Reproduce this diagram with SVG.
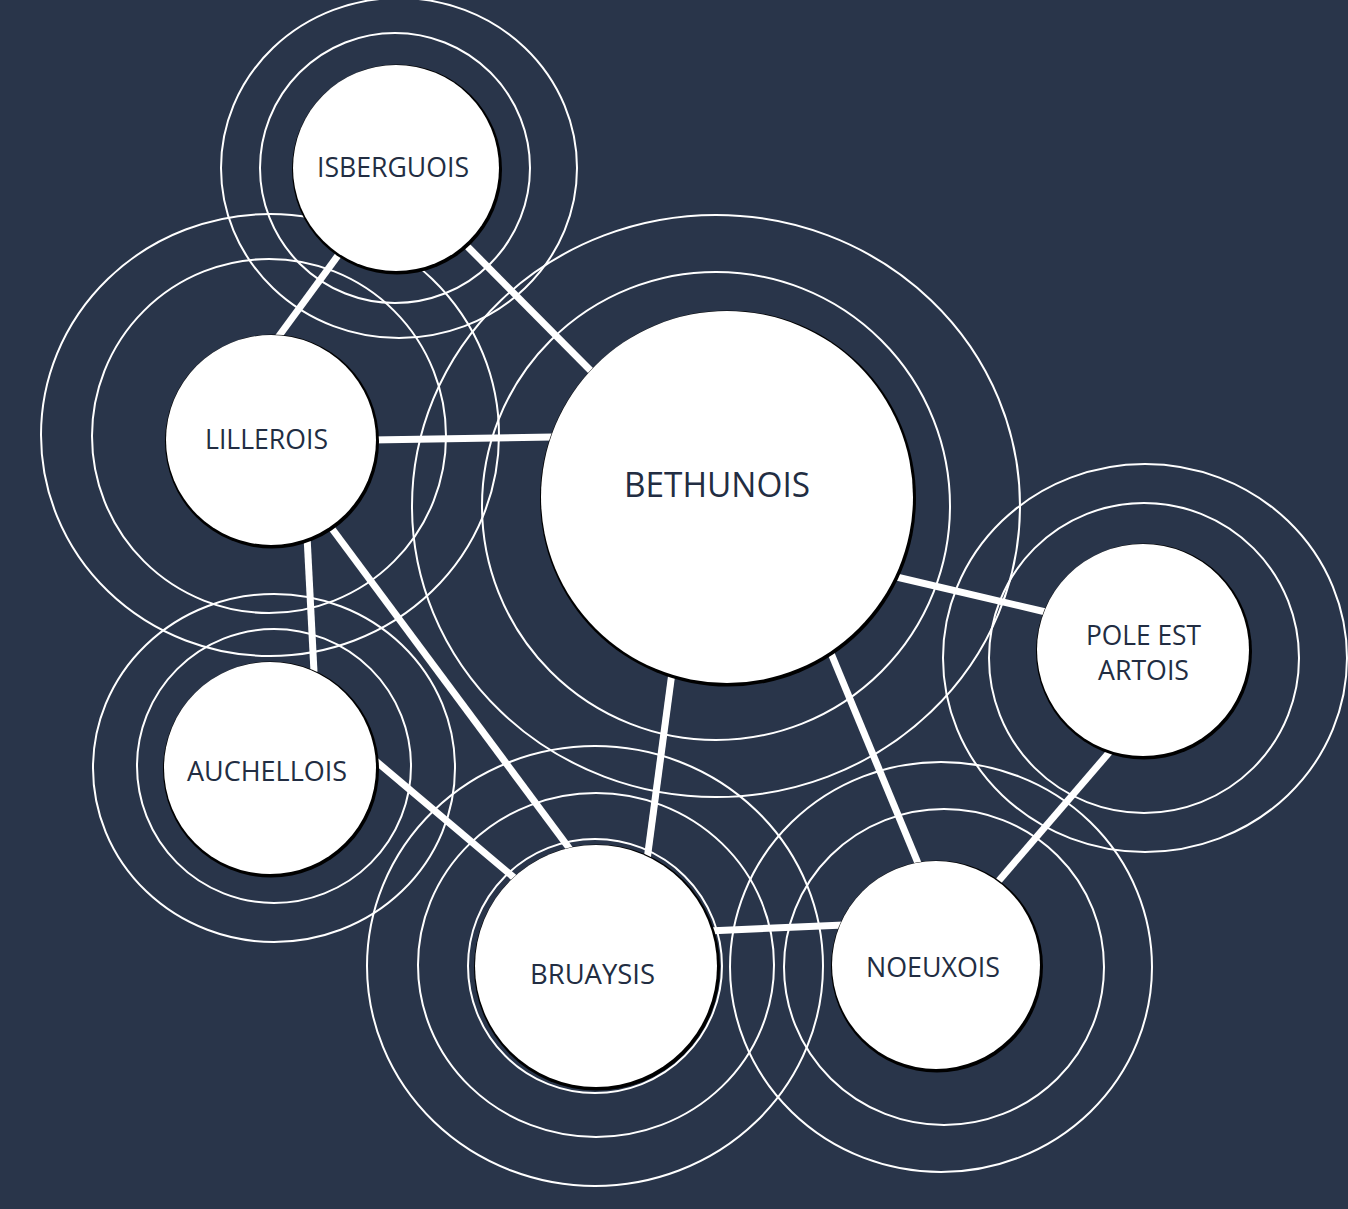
<svg xmlns="http://www.w3.org/2000/svg" width="1348" height="1209" viewBox="0 0 1348 1209">
<style>
.ring{fill:none;stroke:#ffffff;stroke-width:2}
.edge{stroke:#ffffff;stroke-width:7;stroke-linecap:butt}
.shadow{fill:#000000}
.node{fill:#ffffff}
.lbl{font-family:"Open Sans","Liberation Sans",sans-serif;fill:#222d42;text-anchor:middle}
</style>
<rect width="1348" height="1209" fill="#29354a"/>
<g id="rings">
<circle class="ring" cx="395" cy="168" r="135"/>
<ellipse class="ring" cx="399" cy="168" rx="178" ry="170"/>
<circle class="ring" cx="269" cy="436" r="177"/>
<ellipse class="ring" cx="270" cy="435" rx="229" ry="221"/>
<circle class="ring" cx="274" cy="766" r="137"/>
<ellipse class="ring" cx="274" cy="768" rx="181" ry="174"/>
<circle class="ring" cx="716" cy="506" r="234"/>
<ellipse class="ring" cx="716" cy="506" rx="304" ry="291"/>
<circle class="ring" cx="1144" cy="658" r="155"/>
<ellipse class="ring" cx="1145" cy="658" rx="202" ry="194"/>
<ellipse class="ring" cx="596" cy="965" rx="178" ry="172"/>
<ellipse class="ring" cx="595" cy="966" rx="228" ry="220"/>
<ellipse class="ring" cx="944" cy="967" rx="160" ry="158"/>
<ellipse class="ring" cx="941" cy="967" rx="211" ry="205"/>
</g>
<g id="connectors">
<line class="edge" x1="342" y1="250" x2="276" y2="340"/>
<line class="edge" x1="460" y1="239" x2="594" y2="374"/>
<line class="edge" x1="372" y1="440" x2="553" y2="437"/>
<line class="edge" x1="307" y1="536" x2="314" y2="672"/>
<line class="edge" x1="330" y1="526" x2="572" y2="852"/>
<line class="edge" x1="371" y1="757" x2="518" y2="881"/>
<line class="edge" x1="673" y1="665" x2="647" y2="860"/>
<line class="edge" x1="828" y1="646" x2="920" y2="868"/>
<line class="edge" x1="888" y1="575" x2="1050" y2="613"/>
<line class="edge" x1="1113" y1="748" x2="996" y2="884"/>
<line class="edge" x1="708" y1="931" x2="844" y2="925"/>
</g>
<g id="node-isberguois">
<circle class="shadow" cx="397" cy="169.5" r="105"/>
<circle class="node" cx="396" cy="168" r="103"/>
<text class="lbl" x="393" y="177" font-size="27" textLength="152" lengthAdjust="spacingAndGlyphs">ISBERGUOIS</text>
</g>
<g id="node-lillerois">
<circle class="shadow" cx="272" cy="441.5" r="107"/>
<circle class="node" cx="271" cy="440" r="105"/>
<text class="lbl" x="266.5" y="449" font-size="27" textLength="123" lengthAdjust="spacingAndGlyphs">LILLEROIS</text>
</g>
<g id="node-auchellois">
<circle class="shadow" cx="271" cy="769.5" r="108"/>
<circle class="node" cx="270" cy="768" r="106"/>
<text class="lbl" x="267" y="781" font-size="27" textLength="160" lengthAdjust="spacingAndGlyphs">AUCHELLOIS</text>
</g>
<g id="node-bethunois">
<circle class="shadow" cx="728" cy="498.5" r="188"/>
<circle class="node" cx="727" cy="497" r="186"/>
<text class="lbl" x="717" y="497" font-size="34" textLength="186" lengthAdjust="spacingAndGlyphs">BETHUNOIS</text>
</g>
<g id="node-pole-est-artois">
<circle class="shadow" cx="1144" cy="651.5" r="108"/>
<circle class="node" cx="1143" cy="650" r="106"/>
<text class="lbl" x="1143.5" y="645" font-size="27" textLength="115" lengthAdjust="spacingAndGlyphs">POLE EST</text>
<text class="lbl" x="1143.5" y="680" font-size="27" textLength="91" lengthAdjust="spacingAndGlyphs">ARTOIS</text>
</g>
<g id="node-bruaysis">
<circle class="ring" cx="595" cy="966" r="127"/>
<circle class="shadow" cx="597" cy="967.5" r="123"/>
<circle class="node" cx="596" cy="966" r="121"/>
<text class="lbl" x="592.5" y="984" font-size="28" textLength="125" lengthAdjust="spacingAndGlyphs">BRUAYSIS</text>
</g>
<g id="node-noeuxois">
<circle class="shadow" cx="937" cy="966.5" r="106"/>
<circle class="node" cx="936" cy="965" r="104"/>
<text class="lbl" x="933" y="977" font-size="27" textLength="134" lengthAdjust="spacingAndGlyphs">NOEUXOIS</text>
</g>
</svg>
